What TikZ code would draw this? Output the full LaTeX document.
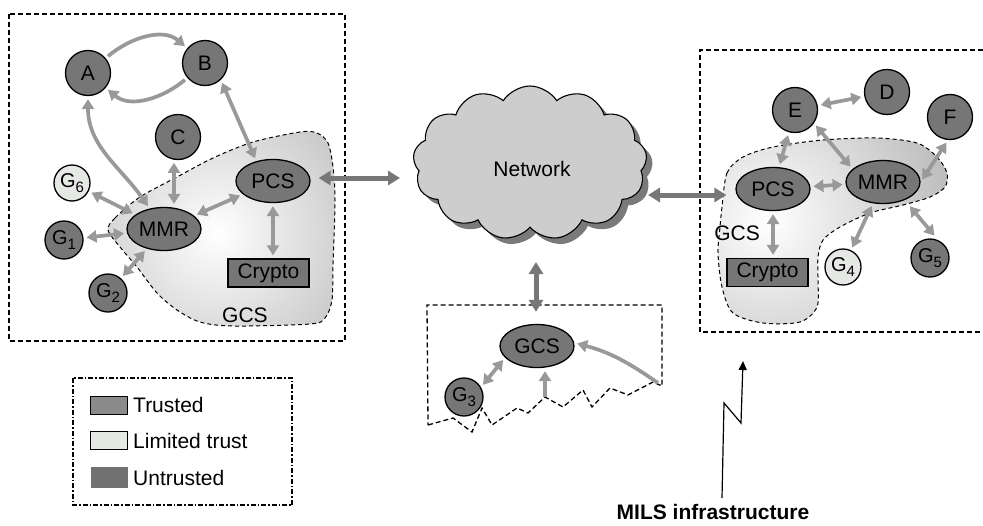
\documentclass[tikz,border=0pt]{standalone}
\usepackage{fontspec}
\setmainfont{Liberation Sans}
\usetikzlibrary{arrows.meta,shapes.geometric,shapes.symbols,shadows,calc}

\definecolor{nodegray}{HTML}{767676}
\definecolor{limitgray}{HTML}{E6E8E6}
\definecolor{trustgray}{HTML}{8A8A8A}
\definecolor{untrustgray}{HTML}{717171}
\definecolor{arrowgray}{HTML}{999999}
\definecolor{bigarrowgray}{HTML}{777777}
\definecolor{cloudgray}{HTML}{CDCDCD}
\definecolor{cloudshadow}{HTML}{7A7A7A}
\definecolor{blobgray}{HTML}{A2A2A2}

\newcommand{\fsz}[1]{\fontsize{#1}{#1}\selectfont}
\newcommand{\Gsub}[1]{G\raisebox{-5pt}{\fsz{15}#1}}

% outlines of the two shaded GCS regions
\def\blobLeft{(108,230) (115,218) (140,197) (177,177) (213,158) (253,142) (300,132) (317,133) (328,143) (333,167) (335,200) (333,267) (332,300) (325,318) (310,324) (233,326) (200,322) (177,310) (157,293) (137,267) (120,247)}
\def\blobRight{(722,207) (727,173) (743,157) (773,147) (823,140) (877,138) (917,143) (937,157) (947,173) (945,187) (930,197) (903,205) (870,213) (840,227) (823,240) (818,257) (818,280) (817,307) (800,322) (763,323) (733,313) (722,287) (718,253) (720,227)}

\begin{document}
\begin{tikzpicture}[x=1pt,y=-1pt,
  every node/.style={font=\fsz{21}, inner sep=0pt},
  tnode/.style={circle, draw=black, line width=1.3pt, fill=nodegray, minimum size=45pt},
  gnode/.style={tnode, minimum size=38pt, font=\fsz{20}},
  lnode/.style={gnode, fill=limitgray, minimum size=36pt},
  ellnode/.style={ellipse, draw=black, line width=1.3pt, fill=nodegray, minimum width=74pt, minimum height=43pt},
  boxnode/.style={rectangle, draw=black, line width=1.3pt, fill=nodegray, minimum width=81pt, minimum height=28pt},
  boxline/.style={line width=1.3pt, dash pattern=on 5pt off 3pt},
  blobline/.style={line width=1pt, dash pattern=on 4pt off 3pt},
  garrow/.style={draw=arrowgray, line width=3.7pt, shorten <=3pt, shorten >=3pt,
    arrows={-Triangle[length=10pt,width=12pt]}},
  gbiarrow/.style={garrow, arrows={Triangle[length=10pt,width=12pt]-Triangle[length=10pt,width=12pt]}},
  bigarrow/.style={draw=bigarrowgray, line width=5pt,
    arrows={Triangle[length=12pt,width=14pt]-Triangle[length=12pt,width=14pt]}},
  swatch/.style={minimum width=37pt, minimum height=18pt},
]
\useasboundingbox (0,0) rectangle (983,525);

% ---------- left domain ----------
\draw[boxline] (9,14) rectangle (345,341);
\begin{scope}
  \clip plot[smooth cycle] coordinates {\blobLeft};
  \shade[inner color=white, outer color=blobgray] (217,233) circle (250);
\end{scope}
\draw[blobline] plot[smooth cycle] coordinates {\blobLeft};

\node[tnode] (A) at (88,73) {A};
\node[tnode] (B) at (205,63) {B};
\node[tnode] (C) at (178,137) {C};
\node[lnode] (G6) at (72,183) {\Gsub{6}};
\node[gnode] (G1) at (64,240) {\Gsub{1}};
\node[gnode] (G2) at (108,293) {\Gsub{2}};
\node[ellnode] (MMR) at (164,229) {MMR};
\node[ellnode] (PCS) at (273,181) {PCS};
\node[boxnode] (Crypto) at (268.5,273) {Crypto};
\node (gcsL) at (245,315) {GCS};

\draw[garrow] (A) to[out=40,in=140] (B);
\draw[garrow] (B) to[out=-140,in=-40] (A);
\draw[gbiarrow] (A) to[out=-90,in=125] (MMR);
\draw[gbiarrow] (B.-47) -- (PCS.130);
\draw[gbiarrow] (C.-100) -- (C.-100 |- MMR.north);
\draw[gbiarrow] (G6) -- (MMR);
\draw[gbiarrow] (G1) -- (MMR);
\draw[gbiarrow] (G2) -- (MMR);
\draw[gbiarrow] (MMR) -- (PCS);
\draw[gbiarrow] (PCS.south) -- (PCS.south |- Crypto.north);

% ---------- network ----------
\node[cloud, cloud puffs=13, cloud puff arc=115, aspect=1.55, draw=black, line width=1.1pt,
      fill=cloudgray, minimum width=234pt, minimum height=154pt,
      drop shadow={shadow xshift=6pt, shadow yshift=-6pt, fill=cloudshadow, opacity=1}]
      (Net) at (530,163) {};
\node (netlabel) at (532,169) {Network};

\coordinate (netW) at (400,178);
\coordinate (netE) at (648,195);
\coordinate (netS) at (536,262);
\draw[bigarrow, shorten <=8pt] (PCS.east |- netW) -- (netW);

% ---------- remote GCS ----------
\draw[boxline] (428,425) -- (453,418) -- (472,432) -- (482,408) -- (492,425) -- (517,408)
  -- (528,413) -- (545,397) -- (563,407) -- (583,390) -- (592,407) -- (610,388)
  -- (628,395) -- (653,382) -- (662,386) -- (662,305) -- (427,305) -- cycle;
\coordinate (zpk) at (545,397);
\coordinate (zr) at (658,383);
\node[ellnode] (GCS3) at (537,346) {GCS};
\node[gnode] (G3) at (464,397) {\Gsub{3}};
\draw[bigarrow, shorten >=12pt] (netS) -- (netS |- GCS3.north);
\draw[gbiarrow] (G3.30) -- (GCS3.200);
\draw[garrow, shorten <=0pt] (zpk) -- (zpk |- GCS3.south);
\draw[garrow, shorten <=0pt] (zr) to[out=145,in=-15] (GCS3.5);

% ---------- right domain ----------
\draw[boxline] (983,50) -- (700,50) -- (700,332) -- (983,332);
\begin{scope}
  \clip plot[smooth cycle] coordinates {\blobRight};
  \shade[inner color=white, outer color=blobgray] (768,222) circle (260);
\end{scope}
\draw[blobline] plot[smooth cycle] coordinates {\blobRight};

\node[tnode] (E) at (795,110) {E};
\node[tnode] (D) at (887,92) {D};
\node[tnode] (F) at (950,117) {F};
\node[ellnode] (PCS2) at (773,189) {PCS};
\node[ellnode] (MMR2) at (883,182) {MMR};
\node[boxnode] (Crypto2) at (767.5,272.5) {Crypto};
\node[lnode] (G4) at (843,267) {\Gsub{4}};
\node[gnode] (G5) at (930,258) {\Gsub{5}};
\node (gcsR) at (737,233) {GCS};

\draw[bigarrow, shorten >=9pt] (netE) -- (PCS2.west |- netE);
\draw[gbiarrow] (E) -- (D);
\draw[gbiarrow] (E) -- (PCS2);
\draw[gbiarrow] (E.-35) -- (MMR2.157);
\draw[gbiarrow] (PCS2) -- (MMR2);
\draw[gbiarrow] (MMR2.east) -- (F.-95);
\draw[gbiarrow] (MMR2) -- (G4);
\draw[gbiarrow, shorten <=8pt, shorten >=6pt] (MMR2.-40) -- (G5.65);
\draw[gbiarrow] (PCS2.south) -- (PCS2.south |- Crypto2.north);

% ---------- legend ----------
\draw[line width=1.3pt, dash pattern=on 5pt off 2pt on 1.5pt off 2pt] (73,378) rectangle (292,505);
\node[swatch, draw=black, line width=1.3pt, fill=trustgray] (swT) at (109.2,405.2) {};
\node[swatch, draw=black, line width=1.3pt, fill=limitgray] (swL) at (109.2,440.8) {};
\node[swatch, fill=untrustgray, minimum width=37.6pt, minimum height=20.4pt] (swU) at (109.5,477.5) {};
\node[anchor=west] (lbT) at (133,405) {Trusted};
\node[anchor=west] (lbL) at (133,441) {Limited trust};
\node[anchor=west] (lbU) at (133,478) {Untrusted};

% ---------- MILS infrastructure pointer ----------
\node[font=\bfseries\fsz{21}] (mils) at (713,512) {MILS infrastructure};
\coordinate (m0) at (722,498);
\coordinate (m1) at (724,403);
\coordinate (m2) at (741,423);
\coordinate (m3) at (743,361);
\draw[line width=1.2pt, -{Triangle[length=9pt,width=8pt]}] (m0) -- (m1) -- (m2) -- (m3);
\end{tikzpicture}
\end{document}
